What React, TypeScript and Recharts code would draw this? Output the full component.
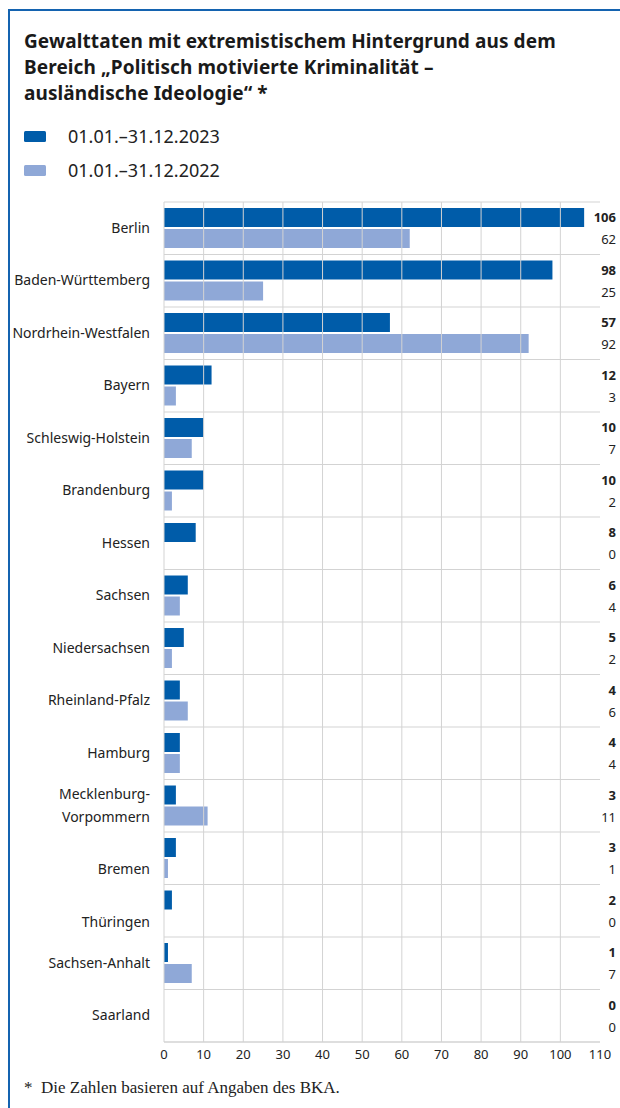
import { BarChart, Bar, XAxis, YAxis, CartesianGrid, ReferenceLine } from 'recharts';

const categories = [
  'Berlin',
  'Baden-Württemberg',
  'Nordrhein-Westfalen',
  'Bayern',
  'Schleswig-Holstein',
  'Brandenburg',
  'Hessen',
  'Sachsen',
  'Niedersachsen',
  'Rheinland-Pfalz',
  'Hamburg',
  'Mecklenburg-Vorpommern',
  'Bremen',
  'Thüringen',
  'Sachsen-Anhalt',
  'Saarland',
];
const values2023 = [106, 98, 57, 12, 10, 10, 8, 6, 5, 4, 4, 3, 3, 2, 1, 0];
const values2022 = [62, 25, 92, 3, 7, 2, 0, 4, 2, 6, 4, 11, 1, 0, 7, 0];
const xTicks = [0, 10, 20, 30, 40, 50, 60, 70, 80, 90, 100, 110];

// labels that are broken over two lines in the original
const labelLines: Record<string, string[]> = {
  'Mecklenburg-Vorpommern': ['Mecklenburg-', 'Vorpommern'],
  Bremen: ['', 'Bremen'],
  Thüringen: ['', 'Thüringen'],
};

const DARK = '#005ca9';
const LIGHT = '#8fa8d7';
const GRID = '#d3d3d3';
const SANS = '"Noto Sans", "Open Sans", sans-serif';

const data = categories.map((name, i) => ({
  name,
  y2023: values2023[i],
  y2022: values2022[i],
}));

// eslint-disable-next-line @typescript-eslint/no-explicit-any
const CategoryTick = (props: any) => {
  const { x, y, payload } = props;
  const lines = labelLines[payload.value] ?? [payload.value];
  const lh = 23;
  const start = -((lines.length - 1) * lh) / 2 - 1;
  return (
    <text x={x} y={y} textAnchor="end" fill="#222" fontSize={14} fontFamily={SANS}>
      {lines.map((l: string, i: number) => (
        <tspan key={i} x={x} y={y + start + i * lh} dominantBaseline="central">
          {l}
        </tspan>
      ))}
    </text>
  );
};

// right-hand column: 2023 value (bold) above 2022 value, aligned with the bars
// eslint-disable-next-line @typescript-eslint/no-explicit-any
const ValueTick = (props: any) => {
  const { x, y, index } = props;
  return (
    <g fontFamily={SANS} fontSize={13} fill="#222">
      <text x={x} y={y - 11} textAnchor="end" dominantBaseline="central" fontWeight={700}>
        {values2023[index]}
      </text>
      <text x={x} y={y + 11} textAnchor="end" dominantBaseline="central">
        {values2022[index]}
      </text>
    </g>
  );
};

export default function App() {
  const n = categories.length;
  return (
    <div
      style={{
        position: 'absolute',
        left: 0,
        top: 0,
        width: 620,
        height: 1108,
        background: '#fff',
        overflow: 'hidden',
        fontFamily: SANS,
        color: '#222',
      }}
    >
      <div
        style={{
          position: 'absolute',
          left: 8,
          top: 9,
          width: 620,
          height: 1120,
          borderTop: '2.5px solid #1463b0',
          borderLeft: '2.5px solid #1463b0',
        }}
      />
      <div
        style={{
          position: 'absolute',
          left: 24,
          top: 28,
          fontSize: 19,
          fontWeight: 700,
          lineHeight: '26px',
          letterSpacing: 0.1,
          color: '#1a1a1a',
        }}
      >
        Gewalttaten mit extremistischem Hintergrund aus dem
        <br />
        Bereich „Politisch motivierte Kriminalität –
        <br />
        ausländische Ideologie“ *
      </div>
      {[
        { label: '01.01.–31.12.2023', color: DARK, top: 124 },
        { label: '01.01.–31.12.2022', color: LIGHT, top: 158 },
      ].map((item) => (
        <div
          key={item.label}
          style={{ position: 'absolute', left: 24, top: item.top, display: 'flex', alignItems: 'center', height: 24 }}
        >
          <span
            style={{ display: 'inline-block', width: 22, height: 11, background: item.color, borderRadius: 1.5 }}
          />
          <span style={{ marginLeft: 22, fontSize: 18, color: '#222' }}>{item.label}</span>
        </div>
      ))}
      <div style={{ position: 'absolute', left: 0, top: 0 }}>
        <BarChart
          width={620}
          height={1080}
          data={data}
          layout="vertical"
          margin={{ top: 202, right: 0, left: 14, bottom: 8 }}
          barGap={2}
        >
          <CartesianGrid
            stroke={GRID}
            vertical={false}
            // eslint-disable-next-line @typescript-eslint/no-explicit-any
            horizontalCoordinatesGenerator={({ offset }: any) =>
              Array.from({ length: n + 1 }, (_, i) => offset.top + (i * offset.height) / n)
            }
          />
          {xTicks.slice(0, -1).map((t) => (
            <ReferenceLine key={t} x={t} yAxisId="left" stroke={GRID} />
          ))}
          <XAxis
            type="number"
            domain={[0, 110]}
            ticks={xTicks}
            axisLine={{ stroke: GRID }}
            tickLine={false}
            tick={{ fill: '#222', fontSize: 13, fontFamily: SANS }}
            height={30}
            interval={0}
          />
          <YAxis
            yAxisId="left"
            type="category"
            dataKey="name"
            width={150}
            axisLine={false}
            tickLine={false}
            tickMargin={8}
            tick={<CategoryTick />}
            interval={0}
          />
          <YAxis
            yAxisId="right"
            orientation="right"
            type="category"
            dataKey="name"
            width={20}
            axisLine={false}
            tickLine={false}
            tickMargin={10}
            tick={<ValueTick />}
            interval={0}
          />
          <Bar dataKey="y2023" yAxisId="left" fill={DARK} barSize={19} isAnimationActive={false} />
          <Bar dataKey="y2022" yAxisId="left" fill={LIGHT} barSize={19} isAnimationActive={false} />
        </BarChart>
      </div>
      <div
        style={{
          position: 'absolute',
          left: 24,
          top: 1078,
          fontFamily: '"Liberation Serif", "DejaVu Serif", serif',
          fontSize: 17,
          color: '#222',
        }}
      >
        *&nbsp;&nbsp;Die Zahlen basieren auf Angaben des BKA.
      </div>
    </div>
  );
}
